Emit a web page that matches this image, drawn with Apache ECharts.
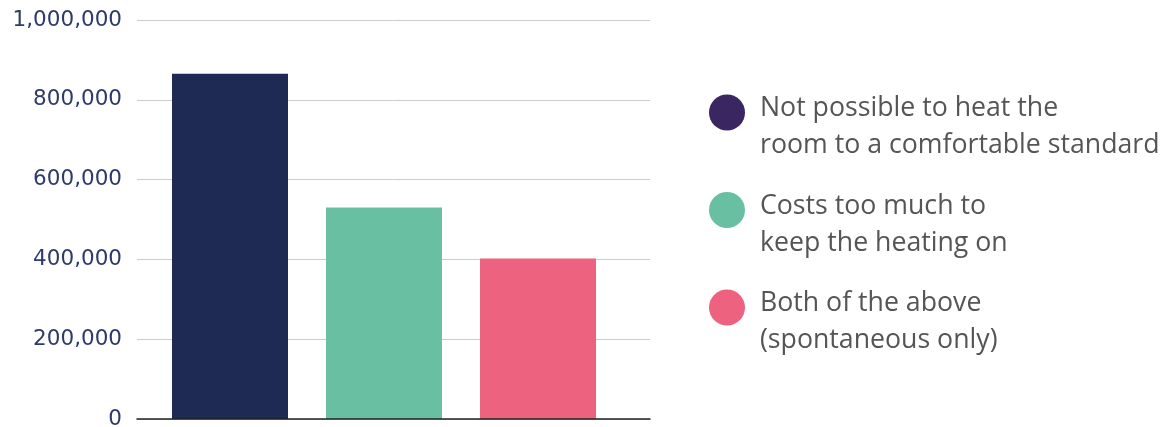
<!DOCTYPE html>
<html><head><meta charset="utf-8">
<script src="https://cdn.jsdelivr.net/npm/echarts@6/dist/echarts.min.js"></script>
<style>html,body{margin:0;padding:0;background:#fff}#c{width:1169px;height:427px}</style>
</head><body><div id="c"></div>
<script>
const categories = ['Not possible to heat the\nroom to a comfortable standard', 'Costs too much to\nkeep the heating on', 'Both of the above\n(spontaneous only)'];
const values = [865000, 530000, 402000];
const barColors = ['#1f2a54', '#69bfa2', '#ed627f'];
const legendColors = ['#3a2660', '#69bfa2', '#ed627f'];
const yTicks = {min: 0, max: 1000000, interval: 200000};

const chart = echarts.init(document.getElementById('c'));
const iconPath = 'path://M0,22.5A18,18 0 1,1 36,22.5A18,18 0 1,1 0,22.5ZM0,0M46,74';
const series = categories.map((name, i) => ({
  name: name,
  type: 'bar',
  xAxisIndex: 1, yAxisIndex: 1,
  barWidth: 116,
  barGap: '-100%',
  data: values.map((v, j) => j === i ? v : null),
  itemStyle: {color: barColors[i]},
  emphasis: {disabled: true}
}));
chart.setOption({
  animation: false,
  grid: [
    {left: 137, right: 519, top: 20, bottom: 8, containLabel: false, outerBoundsMode: 'none'},
    {left: 153, right: 554, top: 20, bottom: 8, containLabel: false, outerBoundsMode: 'none'}
  ],
  xAxis: [
    {gridIndex: 0, type: 'category', data: categories, z: 10,
     axisLine: {lineStyle: {color: '#222', width: 1.5}}, axisTick: {show: false}, axisLabel: {show: false}},
    {gridIndex: 1, type: 'category', data: categories, show: false}
  ],
  yAxis: [
    {gridIndex: 0, type: 'value', min: yTicks.min, max: yTicks.max, interval: yTicks.interval,
     axisLine: {show: false}, axisTick: {show: false},
     axisLabel: {margin: 15, color: '#2f3a6a', fontSize: 21.5, fontFamily: 'DejaVu Sans',
       formatter: v => v.toLocaleString('en-US')},
     splitLine: {lineStyle: {color: '#cccccc', width: 1}}},
    {gridIndex: 1, type: 'value', min: yTicks.min, max: yTicks.max, interval: yTicks.interval, show: false}
  ],
  legend: {
    orient: 'vertical', left: 709, top: 90, padding: 0,
    itemWidth: 46, itemHeight: 74, itemGap: 23.5,
    icon: iconPath,
    selectedMode: false,
    textStyle: {color: '#555555', fontSize: 26.7, fontFamily: 'Open Sans', lineHeight: 37},
    data: categories.map((n, i) => ({name: n, itemStyle: {color: legendColors[i]}}))
  },
  series: series
});
</script></body></html>
